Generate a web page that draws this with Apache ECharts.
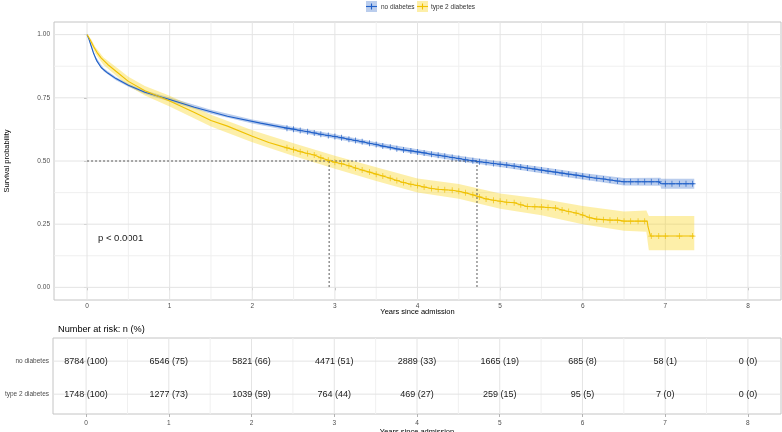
<!DOCTYPE html>
<html><head><meta charset="utf-8">
<script src="https://cdn.jsdelivr.net/npm/echarts@6/dist/echarts.min.js"></script>
<style>html,body{margin:0;padding:0;background:#fff}#c{width:782px;height:432px}</style>
</head><body><div id="c"></div>
<script>
const groupNames = ['no diabetes', 'type 2 diabetes'];
const xTicks = [0, 1, 2, 3, 4, 5, 6, 7, 8];
const xMinor = [0.5, 1.5, 2.5, 3.5, 4.5, 5.5, 6.5, 7.5];
const yTicks = [0, 0.25, 0.5, 0.75, 1];
const yMinor = [0.125, 0.375, 0.625, 0.875];
const pText = 'p < 0.0001';
const medianTimes = [2.93, 4.72];

// Kaplan-Meier curve: no diabetes
const noTime = [0,0.02,0.05,0.08,0.12,0.17,0.25,0.35,0.5,0.7,1.0,1.3,1.7,2.1,2.42,2.5,2.58,2.67,2.75,2.83,2.92,3.0,3.08,3.17,3.25,3.33,3.42,3.5,3.58,3.67,3.75,3.83,3.92,4.0,4.08,4.17,4.25,4.33,4.42,4.5,4.58,4.67,4.75,4.83,4.92,5.0,5.08,5.17,5.25,5.33,5.42,5.5,5.58,5.67,5.75,5.83,5.92,6.0,6.08,6.17,6.25,6.33,6.42,6.5,6.58,6.67,6.75,6.83,6.92,6.94,6.95,7.0,7.08,7.17,7.25,7.35];
const noSurv = [1.0,0.985,0.955,0.925,0.895,0.870,0.848,0.826,0.800,0.772,0.743,0.713,0.677,0.650,0.630,0.626,0.621,0.616,0.611,0.606,0.601,0.597,0.592,0.586,0.581,0.576,0.570,0.565,0.559,0.554,0.548,0.544,0.540,0.536,0.532,0.527,0.523,0.519,0.514,0.510,0.505,0.501,0.497,0.494,0.490,0.487,0.484,0.480,0.476,0.472,0.468,0.464,0.460,0.456,0.452,0.448,0.444,0.440,0.436,0.432,0.429,0.425,0.421,0.418,0.418,0.418,0.418,0.418,0.418,0.418,0.410,0.410,0.410,0.410,0.410,0.410];
const noCensor = [2.42,2.5,2.58,2.67,2.75,2.83,2.92,3.0,3.08,3.17,3.25,3.33,3.42,3.5,3.58,3.67,3.75,3.83,3.92,4.0,4.08,4.17,4.25,4.33,4.42,4.5,4.58,4.67,4.75,4.83,4.92,5.0,5.08,5.17,5.25,5.33,5.42,5.5,5.58,5.67,5.75,5.83,5.92,6.0,6.08,6.17,6.25,6.33,6.42,6.5,6.58,6.67,6.75,6.83,6.92,7.0,7.08,7.17,7.25,7.33];
const noCiTime = [0,0.05,0.1,0.2,0.35,0.5,0.7,1.0,1.5,2.0,2.5,3.0,3.5,4.0,4.5,5.0,5.5,6.0,6.5,6.94,6.95,7.35];
const noCiLow  = [1.0,0.950,0.903,0.855,0.820,0.794,0.765,0.735,0.687,0.648,0.617,0.588,0.556,0.526,0.499,0.476,0.452,0.427,0.403,0.402,0.390,0.390];
const noCiHigh = [1.0,0.960,0.915,0.867,0.832,0.806,0.779,0.751,0.703,0.664,0.635,0.606,0.574,0.546,0.521,0.498,0.476,0.453,0.433,0.434,0.430,0.430];

// Kaplan-Meier curve: type 2 diabetes
const t2Time = [0,0.02,0.05,0.08,0.12,0.17,0.25,0.35,0.5,0.7,1.0,1.3,1.5,1.7,2.0,2.2,2.42,2.5,2.58,2.67,2.75,2.83,2.92,3.0,3.08,3.17,3.25,3.33,3.42,3.5,3.58,3.67,3.75,3.83,3.92,4.0,4.08,4.17,4.25,4.33,4.42,4.5,4.58,4.67,4.75,4.83,4.92,5.0,5.08,5.17,5.25,5.33,5.42,5.5,5.58,5.67,5.75,5.83,5.92,6.0,6.08,6.17,6.25,6.33,6.42,6.5,6.58,6.67,6.75,6.78,6.79,6.81,6.82,6.92,7.0,7.17,7.35];
const t2Surv = [1.0,0.990,0.972,0.952,0.930,0.908,0.882,0.855,0.815,0.778,0.737,0.692,0.660,0.638,0.598,0.573,0.552,0.545,0.537,0.530,0.524,0.513,0.503,0.495,0.489,0.481,0.472,0.464,0.456,0.448,0.441,0.432,0.423,0.415,0.408,0.403,0.397,0.391,0.388,0.386,0.384,0.380,0.374,0.366,0.358,0.350,0.345,0.341,0.337,0.335,0.327,0.320,0.319,0.318,0.316,0.314,0.306,0.300,0.294,0.286,0.276,0.270,0.268,0.266,0.266,0.262,0.262,0.262,0.262,0.262,0.240,0.240,0.203,0.203,0.203,0.203,0.203];
const t2Censor = [2.42,2.5,2.58,2.67,2.75,2.83,2.92,3.0,3.08,3.17,3.25,3.33,3.42,3.5,3.58,3.67,3.75,3.83,3.92,4.0,4.08,4.17,4.25,4.33,4.42,4.5,4.58,4.67,4.75,4.83,4.92,5.0,5.08,5.17,5.25,5.33,5.42,5.5,5.58,5.67,5.75,5.83,5.92,6.0,6.08,6.17,6.25,6.33,6.42,6.5,6.58,6.67,6.75,6.83,6.92,7.0,7.17,7.33];
const t2CiTime = [0,0.05,0.1,0.2,0.35,0.5,0.7,1.0,1.5,2.0,2.5,3.0,3.5,4.0,4.5,5.0,5.5,6.0,6.5,6.77,6.8,7.35];
const t2CiLow  = [1.0,0.962,0.925,0.880,0.838,0.797,0.759,0.716,0.637,0.574,0.520,0.469,0.421,0.375,0.351,0.311,0.285,0.250,0.224,0.220,0.147,0.147];
const t2CiHigh = [1.0,0.982,0.951,0.910,0.872,0.833,0.797,0.758,0.683,0.622,0.570,0.521,0.475,0.431,0.409,0.371,0.351,0.322,0.300,0.304,0.282,0.282];

// Number at risk table
const riskTimes = [0, 1, 2, 3, 4, 5, 6, 7, 8];
const riskNoN   = [8784, 6546, 5821, 4471, 2889, 1665, 685, 58, 0];
const riskNoPct = [100, 75, 66, 51, 33, 19, 8, 1, 0];
const riskT2N   = [1748, 1277, 1039, 764, 469, 259, 95, 7, 0];
const riskT2Pct = [100, 73, 59, 44, 27, 15, 5, 0, 0];

const FONT = 'Liberation Sans, Arial, Helvetica, sans-serif';
const BLUE = '#1f5fc8', BLUE_BAND = 'rgba(46,104,200,0.33)';
const YEL = '#efc000', YEL_BAND = 'rgba(250,212,30,0.38)';
const GRID_MAJ = '#e4e4e4', GRID_MIN = '#f0f0f0';
const PLUS = 'path://M4.3,0H5.7V4.3H10V5.7H5.7V10H4.3V5.7H0V4.3H4.3Z';

function pairs(t, s) { return t.map((v, i) => [v, s[i]]); }
function stepAt(times, surv, c) {
  let v = surv[0];
  for (let i = 0; i < times.length; i++) { if (times[i] <= c) v = surv[i]; }
  return v;
}
function censorPts(c, times, surv) { return c.map(x => [x, stepAt(times, surv, x)]); }

function bandSeries(tt, lo, hi, color) {
  return {
    type: 'custom', xAxisIndex: 0, yAxisIndex: 0, z: 2, silent: true,
    data: [[tt[0], lo[0]]],
    renderItem: function (params, api) {
      const pts = [];
      for (let i = 0; i < tt.length; i++) pts.push(api.coord([tt[i], hi[i]]));
      for (let i = tt.length - 1; i >= 0; i--) pts.push(api.coord([tt[i], lo[i]]));
      return { type: 'polygon', shape: { points: pts }, style: { fill: color } };
    }
  };
}
function gridLines(xi, vals, vertical, yRange, color) {
  return {
    type: 'custom', xAxisIndex: xi, yAxisIndex: xi, z: 1, silent: true,
    data: vals.map(v => vertical ? [v, yRange[0]] : [yRange[0], v]),
    renderItem: function (params, api) {
      const v = vertical ? api.value(0) : api.value(1);
      const a = vertical ? api.coord([v, yRange[0]]) : api.coord([yRange[0], v]);
      const b = vertical ? api.coord([v, yRange[1]]) : api.coord([yRange[1], v]);
      return { type: 'line', shape: { x1: a[0], y1: a[1], x2: b[0], y2: b[1] }, style: { stroke: color, lineWidth: 1 } };
    }
  };
}
function riskText(times, n, pct, row) {
  const labels = times.map((t, i) => n[i] + ' (' + pct[i] + ')');
  return {
    type: 'custom', xAxisIndex: 1, yAxisIndex: 1, z: 5, silent: true,
    data: times.map((t) => [t, row]),
    renderItem: function (params, api) {
      const p = api.coord([api.value(0), api.value(1)]);
      return { type: 'text', x: p[0], y: p[1], style: { text: labels[params.dataIndex], fill: '#1a1a1a', font: '9px ' + FONT, align: 'center', verticalAlign: 'middle' } };
    }
  };
}

const axisLabelStyle = { color: '#4d4d4d', fontSize: 6.5, fontFamily: FONT };
const chart = echarts.init(document.getElementById('c'));
chart.setOption({
  animation: false,
  backgroundColor: '#fff',
  title: [{ text: 'Number at risk: n (%)', left: 53, top: 320, textStyle: { fontSize: 9.2, fontWeight: 'normal', color: '#000', fontFamily: FONT } }],
  grid: [
    { left: 54, right: 1, top: 22, bottom: 132, show: true, borderColor: '#c4c4c4', borderWidth: 1, backgroundColor: 'transparent', containLabel: false, outerBoundsMode: 'none' },
    { left: 53, right: 1, top: 338, bottom: 18, show: true, borderColor: '#c4c4c4', borderWidth: 1, backgroundColor: 'transparent', containLabel: false, outerBoundsMode: 'none' }
  ],
  xAxis: [
    { type: 'value', gridIndex: 0, min: -0.4, max: 8.4, splitLine: { show: false },
      axisLine: { show: false }, axisTick: { show: true, length: 3, customValues: xTicks, lineStyle: { color: '#b3b3b3' } },
      axisLabel: { customValues: xTicks, margin: 3, ...axisLabelStyle },
      name: 'Years since admission', nameLocation: 'middle', nameGap: 8, nameMoveOverlap: false,
      nameTextStyle: { color: '#000', fontSize: 7.5, fontFamily: FONT } },
    { type: 'value', gridIndex: 1, min: -0.4, max: 8.4, splitLine: { show: false },
      axisLine: { show: false }, axisTick: { show: true, length: 3, customValues: xTicks, lineStyle: { color: '#b3b3b3' } },
      axisLabel: { customValues: xTicks, margin: 6, ...axisLabelStyle },
      name: 'Years since admission', nameLocation: 'middle', nameGap: 14, nameMoveOverlap: false,
      nameTextStyle: { color: '#000', fontSize: 7.5, fontFamily: FONT } }
  ],
  yAxis: [
    { type: 'value', gridIndex: 0, min: -0.05, max: 1.05, splitLine: { show: false },
      axisLine: { show: false }, axisTick: { show: true, length: 3, customValues: yTicks, lineStyle: { color: '#b3b3b3' } },
      axisLabel: { customValues: yTicks, margin: 4, formatter: v => v.toFixed(2), ...axisLabelStyle },
      name: 'Survival probability', nameLocation: 'middle', nameGap: 43, nameMoveOverlap: false,
      nameTextStyle: { color: '#000', fontSize: 7.5, fontFamily: FONT } },
    { type: 'value', gridIndex: 1, min: 0.3, max: 2.6, inverse: true, splitLine: { show: false },
      axisLine: { show: false }, axisTick: { show: true, length: 3, customValues: [1, 2], lineStyle: { color: '#b3b3b3' } },
      axisLabel: { customValues: [1, 2], margin: 4, formatter: v => groupNames[Math.round(v) - 1] || '', ...axisLabelStyle } }
  ],
  graphic: [
    { type: 'rect', shape: { x: 366, y: 1, width: 11, height: 11 }, style: { fill: BLUE_BAND } },
    { type: 'line', shape: { x1: 366, y1: 6.5, x2: 377, y2: 6.5 }, style: { stroke: BLUE, lineWidth: 1.1 } },
    { type: 'line', shape: { x1: 371.5, y1: 3.5, x2: 371.5, y2: 9.5 }, style: { stroke: BLUE, lineWidth: 1.1 } },
    { type: 'text', x: 381, y: 7, style: { text: groupNames[0], fill: '#333', font: '6.5px ' + FONT, verticalAlign: 'middle' } },
    { type: 'rect', shape: { x: 417, y: 1, width: 11, height: 11 }, style: { fill: YEL_BAND } },
    { type: 'line', shape: { x1: 417, y1: 6.5, x2: 428, y2: 6.5 }, style: { stroke: YEL, lineWidth: 1.1 } },
    { type: 'line', shape: { x1: 422.5, y1: 3.5, x2: 422.5, y2: 9.5 }, style: { stroke: YEL, lineWidth: 1.1 } },
    { type: 'text', x: 431, y: 7, style: { text: groupNames[1], fill: '#333', font: '6.5px ' + FONT, verticalAlign: 'middle' } },
    { type: 'text', x: 98, y: 238, style: { text: pText, fill: '#1a1a1a', font: '9.5px ' + FONT, verticalAlign: 'middle' } }
  ],
  series: [
    gridLines(0, xMinor, true, [-0.05, 1.05], GRID_MIN),
    gridLines(0, yMinor, false, [-0.4, 8.4], GRID_MIN),
    gridLines(0, xTicks, true, [-0.05, 1.05], GRID_MAJ),
    gridLines(0, yTicks, false, [-0.4, 8.4], GRID_MAJ),
    gridLines(1, xMinor, true, [0.3, 2.6], GRID_MIN),
    gridLines(1, xTicks, true, [0.3, 2.6], GRID_MAJ),
    gridLines(1, [1, 2], false, [-0.4, 8.4], GRID_MAJ),
    bandSeries(noCiTime, noCiLow, noCiHigh, BLUE_BAND),
    bandSeries(t2CiTime, t2CiLow, t2CiHigh, YEL_BAND),
    { type: 'line', name: 'median', xAxisIndex: 0, yAxisIndex: 0, z: 3, silent: true, symbol: 'none',
      data: [[0, 0.5], [medianTimes[1], 0.5]], lineStyle: { color: '#333', width: 0.8, type: [2, 2] } },
    { type: 'line', xAxisIndex: 0, yAxisIndex: 0, z: 3, silent: true, symbol: 'none',
      data: [[medianTimes[0], 0.5], [medianTimes[0], 0]], lineStyle: { color: '#333', width: 0.8, type: [2, 2] } },
    { type: 'line', xAxisIndex: 0, yAxisIndex: 0, z: 3, silent: true, symbol: 'none',
      data: [[medianTimes[1], 0.5], [medianTimes[1], 0]], lineStyle: { color: '#333', width: 0.8, type: [2, 2] } },
    { type: 'line', name: groupNames[0], xAxisIndex: 0, yAxisIndex: 0, z: 4, symbol: 'none',
      data: pairs(noTime, noSurv), lineStyle: { color: BLUE, width: 1.1 } },
    { type: 'line', name: groupNames[1], xAxisIndex: 0, yAxisIndex: 0, z: 4, symbol: 'none',
      data: pairs(t2Time, t2Surv), lineStyle: { color: YEL, width: 1.1 } },
    { type: 'scatter', xAxisIndex: 0, yAxisIndex: 0, z: 5, symbol: PLUS, symbolSize: 6,
      data: censorPts(noCensor, noTime, noSurv), itemStyle: { color: BLUE } },
    { type: 'scatter', xAxisIndex: 0, yAxisIndex: 0, z: 5, symbol: PLUS, symbolSize: 6,
      data: censorPts(t2Censor, t2Time, t2Surv), itemStyle: { color: YEL } },
    riskText(riskTimes, riskNoN, riskNoPct, 1),
    riskText(riskTimes, riskT2N, riskT2Pct, 2)
  ]
});
</script>
</body></html>
